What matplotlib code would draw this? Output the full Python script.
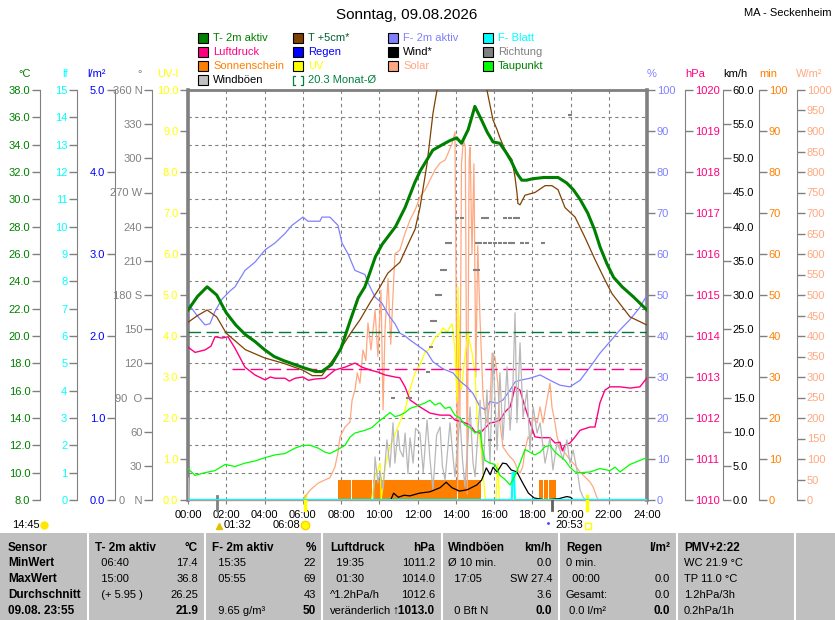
import matplotlib
matplotlib.use('Agg')
import matplotlib.pyplot as plt
import matplotlib.transforms as mtrans
from matplotlib.patches import Rectangle
from matplotlib.lines import Line2D
import numpy as np

plt.rcParams['font.family'] = ['Liberation Sans', 'DejaVu Sans']

# ---- data (hours, values) ----
t2_t = [0, 0.5, 1.0, 1.5, 2.0, 2.5, 3.0, 3.5, 4.0, 4.5, 5.0, 5.5, 6.0, 6.67, 7.0, 7.5, 8.0, 8.5, 8.9,
        9.25, 9.8, 10.15, 10.85, 11.35, 11.85, 12.15, 12.8, 13.3, 13.7, 14.05, 14.3, 14.65, 15.0, 15.35,
        15.65, 15.95, 16.3, 16.6, 16.9, 17.2, 17.45, 17.7, 18.0, 18.6, 19.35, 19.8, 20.15, 20.5, 20.9,
        21.25, 21.55, 21.9, 22.25, 22.7, 23.3, 23.7, 24.0]
t2_val = [21.9, 22.9, 23.6, 23.0, 21.7, 20.8, 20.1, 19.6, 19.0, 18.5, 18.2, 17.95, 17.7, 17.4, 17.4, 17.9,
          19.1, 21.2, 22.8, 23.6, 25.8, 26.7, 28.0, 29.4, 31.2, 32.1, 33.6, 34.0, 34.3, 34.5, 34.1, 35.1,
          36.8, 35.8, 34.9, 34.2, 34.1, 33.5, 32.8, 31.9, 31.4, 31.4, 31.5, 31.6, 31.6, 31.2, 30.7, 30.0,
          29.0, 27.8, 26.5, 25.3, 24.3, 23.6, 22.85, 22.3, 21.9]

t5_t = [0, 0.5, 1.0, 1.5, 2.0, 3.0, 4.0, 5.0, 6.0, 6.5, 7.0, 7.5, 8.0, 8.5, 9.0, 9.5, 10.0, 10.45, 11.08,
        11.6, 11.87, 12.13, 12.5, 12.81, 13.02, 13.5, 14.0, 14.5, 15.0, 15.63, 15.95, 16.16, 16.31, 16.58,
        16.94, 17.1, 17.2, 17.25, 17.36, 17.62, 18.14, 18.67, 19.03, 19.35, 19.71, 20.24, 20.76, 21.28,
        21.8, 22.17, 23.11, 24.0]
t5_val = [21.0, 21.5, 21.9, 21.4, 20.2, 19.0, 18.4, 18.0, 17.5, 17.1, 17.1, 18.1, 19.1, 20.2, 21.2, 22.4,
          23.5, 24.6, 25.4, 27.0, 27.8, 29.4, 32.6, 36.3, 38.0, 40.0, 41.0, 40.8, 39.5, 38.0, 35.8, 35.1,
          34.5, 33.6, 32.9, 31.6, 30.5, 29.7, 29.6, 30.3, 30.5, 31.0, 31.0, 30.7, 29.4, 28.7, 27.2, 25.6,
          24.1, 23.1, 21.4, 20.8]

hum_t = [0, 0.47, 0.89, 1.15, 1.41, 1.78, 2.2, 2.46, 2.98, 3.5, 4.03, 4.55, 5.07, 5.44, 6.01, 6.27, 6.9,
         7.0, 7.42, 7.84, 8.05, 8.37, 8.73, 9.25, 9.41, 9.78, 10.14, 10.5, 10.82, 11.08, 11.35, 11.61, 12.13,
         12.5, 12.81, 13.33, 13.86, 14.22, 14.59, 14.9, 15.27, 15.53, 15.79, 16.16, 16.47, 16.84, 17.1,
         17.36, 17.88, 18.41, 18.93, 19.45, 19.97, 20.5, 21.02, 21.54, 22.06, 22.59, 23.11, 23.63, 24.0]
hum_val = [48, 45, 42.7, 43, 46, 49, 51, 52, 56, 58, 61, 62.7, 65, 67, 69, 68, 68, 69, 69, 67, 62.7, 60,
           56, 55, 53, 49.5, 48, 45, 43, 40.7, 40, 39, 37.3, 36, 33.7, 32, 31, 29, 27.6, 26, 22.7, 22, 24,
           23.6, 24.4, 26.8, 28.8, 29.2, 29.7, 30.5, 29.2, 28, 27.6, 29.2, 32.4, 35.8, 38.6, 41.5, 44, 47, 50]

hpa_t = [0, 0.37, 0.89, 1.2, 1.41, 1.78, 2.09, 2.46, 2.98, 3.5, 4.03, 4.3, 4.55, 5.07, 5.3, 5.6, 6.01, 6.3,
         6.64, 7.16, 7.68, 8.21, 8.73, 9.1, 9.52, 9.93, 10.3, 10.82, 11.08, 11.35, 11.61, 12.13, 12.65,
         13.18, 13.7, 13.96, 14.38, 14.75, 15.01, 15.27, 15.79, 16.05, 16.31, 16.58, 16.84, 16.97, 17.1,
         17.36, 17.62, 17.88, 18.14, 18.41, 18.93, 19.19, 19.45, 19.58, 19.71, 19.97, 20.24, 20.5, 21.02,
         21.28, 21.54, 21.8, 22.06, 22.59, 23.11, 23.63, 24.0]
hpa_val = [1013.73, 1013.6, 1013.66, 1013.75, 1013.98, 1013.95, 1013.98, 1013.7, 1013.24, 1013.05,
           1012.93, 1013.0, 1012.97, 1012.97, 1012.9, 1012.97, 1013.0, 1012.92, 1012.95, 1012.97, 1013.17,
           1013.24, 1013.34, 1013.24, 1013.17, 1013.12, 1013.05, 1013.0, 1012.98, 1012.76, 1012.44,
           1012.27, 1012.12, 1012.07, 1012.07, 1011.95, 1011.9, 1011.83, 1011.66, 1011.63, 1011.88,
           1011.9, 1011.95, 1012.15, 1012.27, 1012.5, 1012.76, 1012.68, 1012.27, 1011.9, 1011.54, 1011.52,
           1011.52, 1011.39, 1011.41, 1011.2, 1011.34, 1011.39, 1011.54, 1011.7, 1011.78, 1011.78,
           1012.37, 1012.68, 1012.76, 1012.76, 1012.73, 1012.76, 1012.98]

dew_t = [0, 0.37, 0.89, 1.41, 1.94, 2.46, 2.98, 3.5, 4.03, 4.55, 5.07, 5.6, 6.01, 6.38, 6.8, 7.16, 7.42,
         7.84, 8.21, 8.47, 8.73, 8.99, 9.25, 9.62, 9.93, 10.3, 10.56, 10.82, 11.08, 11.35, 11.61, 12.13,
         12.39, 12.65, 12.91, 13.18, 13.44, 13.7, 13.96, 14.22, 14.48, 14.75, 15.01, 15.27, 15.37, 15.53,
         15.79, 16.05, 16.31, 16.58, 16.84, 17.1, 17.36, 17.62, 17.88, 18.14, 18.41, 18.67, 18.93, 19.19,
         19.45, 19.71, 19.97, 20.24, 20.5, 21.02, 21.54, 22.06, 22.33, 22.59, 23.11, 23.63, 24.0]
dew_val = [10.3, 9.8, 10.0, 10.15, 10.6, 10.45, 10.7, 10.85, 11.1, 11.3, 11.4, 11.8, 12.0, 12.0, 11.8,
           11.5, 11.4, 11.7, 12.0, 12.6, 12.9, 13.0, 13.1, 13.3, 13.7, 14.1, 14.4, 14.1, 14.2, 14.4, 14.7,
           14.95, 15.1, 15.3, 14.95, 15.1, 14.7, 14.8, 14.2, 14.0, 13.5, 13.3, 12.9, 13.1, 11.9, 10.9,
           10.7, 10.6, 9.8, 9.5, 9.1, 9.8, 10.7, 11.7, 11.5, 11.3, 11.5, 11.9, 12.0, 11.5, 11.2, 10.9,
           10.4, 10.05, 10.0, 10.05, 10.3, 10.15, 10.4, 10.05, 10.6, 10.9, 11.1]

solar_t = [0, 6.0, 6.38, 6.8, 7.16, 7.42, 7.68, 7.84, 7.95, 8.21, 8.47, 8.58, 8.73, 8.85, 8.99, 9.15, 9.3,
           9.41, 9.57, 9.78, 9.93, 10.09, 10.2, 10.3, 10.46, 10.6, 10.82, 11.08, 11.35, 11.61, 11.87,
           12.13, 12.39, 12.65, 12.91, 13.18, 13.44, 13.6, 13.81, 13.96, 14.05, 14.1, 14.15, 14.22, 14.3,
           14.4, 14.5, 14.6, 14.7, 14.75, 14.85, 14.95, 15.05, 15.15, 15.27, 15.43, 15.53, 15.63, 15.79,
           15.9, 16.05, 16.2, 16.31, 16.47, 16.68, 16.84, 17.0, 17.1, 17.25, 17.36, 17.5, 17.62, 17.78,
           17.88, 18.05, 18.25, 18.41, 18.56, 18.77, 18.93, 19.03, 19.19, 19.3, 19.45, 19.71, 19.97,
           20.24, 20.5, 20.76, 21.02, 21.18, 21.39, 21.5, 24.0]
solar_val = [0, 0, 24, 41, 49, 54, 80, 115, 154, 178, 190, 244, 268, 310, 285, 366, 340, 432, 366, 463,
             350, 512, 220, 415, 540, 380, 600, 610, 651, 683, 707, 739, 756, 780, 805, 822, 829, 846, 870,
             898, 300, 20, 450, 200, 820, 880, 860, 15, 830, 860, 600, 820, 300, 620, 439, 251, 212, 188,
             237, 358, 349, 285, 188, 129, 115, 105, 98, 90, 73, 66, 80, 122, 154, 146, 202, 188, 227, 188,
             244, 285, 227, 188, 154, 129, 115, 98, 85, 68, 56, 44, 32, 5, 0, 0]

gust_t = [0, 0.03, 0.08, 9.7, 9.78, 9.93, 10.04, 10.2, 10.4, 10.56, 10.72, 10.82, 10.98, 11.08, 11.25,
          11.35, 11.5, 11.61, 11.77, 11.9, 12.13, 12.3, 12.5, 12.65, 12.81, 13.0, 13.18, 13.3, 13.44, 13.7,
          13.85, 13.96, 14.22, 14.35, 14.48, 14.75, 14.9, 15.01, 15.27, 15.43, 15.63, 15.79, 15.95, 16.16,
          16.31, 16.47, 16.68, 16.84, 16.99, 17.1, 17.2, 17.36, 17.52, 17.73, 17.88, 18.05, 18.25, 18.41,
          18.67, 18.93, 19.08, 19.29, 19.45, 19.6, 19.81, 19.97, 20.14, 20.4, 20.5, 20.66, 20.8, 24.0]
gust_val = [0, 3.2, 0, 0, 6.3, 2.5, 4.1, 1.5, 8.8, 4.8, 11.3, 5.4, 10.2, 7.3, 6.3, 9.8, 3.9, 9.1, 5.4,
            10.5, 9.8, 4.0, 11.7, 6.0, 1.5, 9.5, 10.7, 5.0, 2.9, 11.3, 6.5, 3.4, 12.1, 6.0, 1.9, 13.6, 5.5,
            3.4, 14.6, 3.9, 16.1, 5.4, 21.5, 7.3, 18.6, 8.8, 19.5, 10.2, 17.0, 27.4, 11.3, 23.0, 12.1,
            16.1, 7.3, 13.6, 9.8, 11.3, 5.4, 9.1, 4.4, 8.3, 7.3, 5.9, 8.8, 5.4, 7.3, 3.4, 1.5, 0.4, 0, 0]

wind_t = [0, 10.6, 10.75, 11.0, 11.3, 11.6, 12.1, 12.65, 13.18, 13.5, 13.8, 14.2, 14.6, 15.1, 15.35,
          15.6, 15.8, 15.95, 16.16, 16.45, 16.65, 16.9, 17.2, 17.5, 17.8, 18.1, 18.4, 18.7, 19.4, 19.8,
          20.0, 20.15, 24]
wind_val = [0, 0, 1.0, 0.4, 0.7, 0.6, 1.0, 1.2, 1.8, 2.6, 1.8, 1.3, 1.5, 2.2, 2.9, 4.7, 3.7, 4.8, 4.1,
            5.4, 5.3, 4.4, 4.1, 2.5, 1.0, 0.3, 0.15, 0, 0.2, 0.5, 0.4, 0, 0]

uv_t = [0, 9.6, 9.78, 9.93, 10.05, 10.1, 10.3, 10.56, 10.82, 11.08, 11.35, 11.61, 11.87, 12.13, 12.39,
        12.65, 12.91, 13.18, 13.33, 13.54, 13.81, 13.96, 14.07, 14.12, 14.2, 14.3, 14.48, 14.64, 14.75,
        14.85, 15.01, 15.12, 15.27, 15.43, 15.53, 15.6, 16.1, 16.2, 16.28, 24]
uv_val = [0, 0, 0.56, 0.73, 0.9, 0.0, 0.8, 1.3, 1.6, 1.9, 2.2, 2.7, 3.1, 3.3, 3.6, 3.7, 3.95, 4.07, 4.2,
          4.1, 4.3, 3.66, 2.4, 5.2, 3.0, 2.7, 3.5, 4.07, 3.8, 3.6, 3.1, 1.9, 1.5, 0.66, 0.07, 0, 0, 0.9,
          0, 0]

leaf_t = [0, 16.93, 16.97, 17.05, 17.09, 24]
leaf_val = [0, 0, 1.0, 1.0, 0, 0]

dir_t = [14.07, 14.33, 15.42, 15.63, 16.58, 16.84, 17.1, 17.25,
         13.54, 13.7, 15.11, 15.27, 15.53, 15.79, 16.05, 16.31, 16.58, 16.84, 16.99, 17.46, 17.73, 18.56,
         13.28, 13.44, 15.01, 15.16, 13.02, 13.18, 12.76, 12.91, 12.7, 12.55, 10.72, 11.5, 11.61, 15.79,
         19.97]
dir_val = [247.6, 247.6, 247.6, 247.6, 247.6, 247.6, 247.6, 247.6,
           225.7, 225.7, 225.7, 225.7, 225.7, 225.7, 225.7, 225.7, 225.7, 225.7, 225.7, 225.7, 225.7, 225.7,
           202, 202, 202, 202, 180, 180, 157, 157, 134, 112, 89.6, 89.6, 89.6, 52.7, 338]

sun_start = [7.86, 8.55, 9.66, 14.13, 18.37, 18.61, 18.87]
sun_end = [8.5, 9.6, 14.08, 15.3, 18.55, 18.81, 19.24]
sun_minutes = 5

month_temp = 20.3
month_hpa = 1013.2

# ---- layout ----
W, H = 835, 620
fig = plt.figure(figsize=(8.35, 6.2), dpi=100)
x0, x1, ytop, ybot = 188, 647, 90, 500
ax = fig.add_axes([x0 / W, 1 - ybot / H, (x1 - x0) / W, (ybot - ytop) / H])


def fx(x):
    return x / W


def fy(y):
    return 1 - y / H


GRAY = '#808080'
ax.set_xlim(0, 24)
ax.set_ylim(8, 38)
ax.set_yticks(np.arange(8, 39, 2))
ax.tick_params(axis='y', length=0, labelleft=False)
ax.set_xticks(range(0, 25, 2))
ax.set_xticklabels(['%02d:00' % h for h in range(0, 25, 2)], fontsize=8)
ax.tick_params(axis='x', length=3, color=GRAY, pad=4)
ax.grid(True, color=GRAY, ls=(0, (3, 3)), lw=0.8)
for s in ['left', 'right']:
    ax.spines[s].set_color(GRAY)
    ax.spines[s].set_linewidth(2.6)
ax.spines['top'].set_color(GRAY)
ax.spines['top'].set_linewidth(2)
ax.spines['bottom'].set_color('#a0a0a0')
ax.spines['bottom'].set_linewidth(1)


def make_axis(pos, side, lo, hi, ticks, color, labels, show_spine=True):
    a = ax.twinx()
    a.set_ylim(lo, hi)
    for s in a.spines.values():
        s.set_visible(False)
    a.spines[side].set_visible(show_spine)
    a.spines[side].set_position(('axes', pos))
    a.spines[side].set_color(GRAY)
    a.yaxis.set_ticks_position(side)
    a.set_yticks(ticks)
    a.set_yticklabels(labels)
    a.tick_params(axis='y', colors=GRAY, labelcolor=color, length=6, width=1, labelsize=8, pad=1)
    return a


span = x1 - x0
# order = drawing order (back to front)
a_min = make_axis((759 - x0) / span, 'right', 0, 100, range(0, 101, 10), '#ff8000',
                  [str(v) for v in range(0, 101, 10)])
a_sol = make_axis((797 - x0) / span, 'right', 0, 1000, range(0, 1001, 50), '#ffa880',
                  [str(v) for v in range(0, 1001, 50)])
a_uv = make_axis(0, 'left', 0, 10, range(0, 11), '#ffff00', ['%.1f' % v for v in range(0, 11)],
                 show_spine=False)
a_hum = make_axis(1.0, 'right', 0, 100, range(0, 101, 10), '#8080ff',
                  [str(v) for v in range(0, 101, 10)], show_spine=False)
a_hpa = make_axis((685 - x0) / span, 'right', 1010, 1020, range(1010, 1021), '#ff0080',
                  [str(v) for v in range(1010, 1021)])
a_kmh = make_axis((723 - x0) / span, 'right', 0, 60, range(0, 61, 5), 'black',
                  ['%.1f' % v for v in range(0, 61, 5)])
a_dir = make_axis((152 - x0) / span, 'left', 0, 360, range(0, 361, 30), GRAY,
                  ['0   N', '30', '60', '90  O', '120', '150', '180 S', '210', '240', '270 W',
                   '300', '330', '360 N'])
a_lf = make_axis((77 - x0) / span, 'left', 0, 15, range(0, 16), '#00ffff', [str(v) for v in range(16)])
a_rain = make_axis((115 - x0) / span, 'left', 0, 5, range(0, 6), '#0000ff', ['%.1f' % v for v in range(6)])
a_tc = make_axis((40 - x0) / span, 'left', 8, 38, range(8, 39, 2), '#008000',
                 ['%.1f' % v for v in range(8, 39, 2)])

# ---- data ----
for s0, s1 in zip(sun_start, sun_end):
    a_min.bar(s0, sun_minutes, width=s1 - s0, align='edge', color='#ff8000', lw=0)
a_min.plot([0, 24], [0, 0], color='#ff8000', lw=1.2)
a_sol.plot(solar_t, solar_val, color='#ffa880', lw=0.9)
a_uv.plot(uv_t, uv_val, color='#ffff00', lw=0.9)
a_hum.plot(hum_t, hum_val, color='#8080ff', lw=0.9)
a_hpa.plot(hpa_t, hpa_val, color='#ff0080', lw=1.0)
a_hpa.plot([2.3, 24], [month_hpa, month_hpa], color='#ff0080', lw=1.0, dashes=(9, 4))
a_kmh.plot(gust_t, gust_val, color='#b8b8b8', lw=0.9)
a_kmh.plot(wind_t, wind_val, color='black', lw=0.9)
a_dir.plot(dir_t, dir_val, ls='none', marker='_', ms=3, mew=1.5, color=GRAY)
a_lf.plot(leaf_t, leaf_val, color='#00ffff', lw=1.5)
a_tc.plot([0, 24], [month_temp, month_temp], color='#007840', lw=1.0, dashes=(9, 4))
a_tc.plot(dew_t, dew_val, color='#00ff00', lw=0.9)
a_tc.plot(t5_t, t5_val, color='#804000', lw=0.9)
a_tc.plot(t2_t, t2_val, color='#008000', lw=2.2)

# event markers below axis (moon, sun)
trans = mtrans.blended_transform_factory(ax.transData, ax.transAxes)
for t, c, lw in [(1.533, GRAY, 2), (6.133, '#ffff00', 2.5), (19.03, '#606060', 2), (20.883, '#ffff00', 2.5)]:
    ax.plot([t, t], [-0.025, 0.01], transform=trans, color=c, lw=lw, clip_on=False, zorder=5)

# ---- texts ----
fig.text(fx(407), fy(15), 'Sonntag, 09.08.2026', ha='center', va='center', fontsize=11)
fig.text(fx(831), fy(13), 'MA - Seckenheim', ha='right', va='center', fontsize=8)

units = [(25, '°C', '#008000'), (65, 'lf', '#00ffff'), (96, 'l/m²', '#0000ff'), (140, '°', GRAY),
         (168, 'UV-I', '#ffff00'), (652, '%', '#8080ff'), (695, 'hPa', '#ff0080'), (735, 'km/h', 'black'),
         (768, 'min', '#ff8000'), (809, 'W/m²', '#ffa880')]
for x, s, c in units:
    fig.text(fx(x), fy(74), s, ha='center', va='center', fontsize=8, color=c)

legend = [
    (198, 38, 'T- 2m aktiv', '#008000', '#008000'), (198, 52, 'Luftdruck', '#ff0080', '#ff0080'),
    (198, 66, 'Sonnenschein', '#ff8000', '#ff8000'), (198, 80, 'Windböen', '#c0c0c0', 'black'),
    (293, 38, 'T +5cm*', '#804000', '#006030'), (293, 52, 'Regen', '#0000ff', '#0000ff'),
    (293, 66, 'UV', '#ffff00', '#ffff00'),
    (388, 38, 'F- 2m aktiv', '#8080ff', '#8080ff'), (388, 52, 'Wind*', 'black', 'black'),
    (388, 66, 'Solar', '#ffa880', '#ffa880'),
    (483, 38, 'F- Blatt', '#00ffff', '#00ffff'), (483, 52, 'Richtung', GRAY, GRAY),
    (483, 66, 'Taupunkt', '#00ff00', '#008000'),
]
for x, y, s, fc, tc in legend:
    fig.add_artist(Rectangle((fx(x), fy(y + 5)), 10 / W, 10 / H, transform=fig.transFigure,
                             facecolor=fc, edgecolor='black', lw=0.8))
    fig.text(fx(x + 15), fy(y), s, ha='left', va='center', fontsize=8, color=tc)
# Monat-Ø bracket symbol
for xs in ([295, 293, 293, 295], [301, 303, 303, 301]):
    fig.add_artist(Line2D([fx(v) for v in xs], [fy(76), fy(76), fy(85), fy(85)],
                          transform=fig.transFigure, color='#008040', lw=0.9))
fig.text(fx(308), fy(80), '20.3 Monat-Ø', ha='left', va='center', fontsize=8, color='#008040')

# sun / moon times row
fig.text(fx(12), fy(525), '14:45', ha='left', va='center', fontsize=8)
fig.add_artist(Line2D([fx(44)], [fy(525)], marker='o', ms=5, color='#ffe800', transform=fig.transFigure))
fig.add_artist(Line2D([fx(219)], [fy(526)], marker='^', ms=5, color='#e0c000', transform=fig.transFigure))
fig.text(fx(224), fy(525), '01:32', ha='left', va='center', fontsize=8)
fig.text(fx(273), fy(525), '06:08', ha='left', va='center', fontsize=8)
fig.add_artist(Line2D([fx(305)], [fy(525)], marker='o', ms=6, color='#ffff00', mec='#ffd000',
                      transform=fig.transFigure))
fig.add_artist(Line2D([fx(548)], [fy(523)], marker='.', ms=2, color='#4040ff', transform=fig.transFigure))
fig.text(fx(555), fy(525), '20:53', ha='left', va='center', fontsize=8)
fig.add_artist(Line2D([fx(588)], [fy(526)], marker='s', ms=5, mfc='none', mec='#ffff00',
                      transform=fig.transFigure))

# ---- statistics table ----
fig.add_artist(Rectangle((0, 0), 1, fy(533), transform=fig.transFigure, facecolor='#c0c0c0', lw=0))
for x in [88, 205, 322, 442, 559, 677, 795]:
    fig.add_artist(Line2D([fx(x), fx(x)], [0, fy(533)], transform=fig.transFigure, color='white', lw=1.5))

tbl_left = [
    ['Sensor', 'MinWert', 'MaxWert', 'Durchschnitt', '09.08. 23:55'],
    ['T- 2m aktiv', '  06:40', '  15:00', '  (+ 5.95 )', ''],
    ['F- 2m aktiv', '  15:35', '  05:55', '', '  9.65 g/m³'],
    ['Luftdruck', '  19:35', '  01:30', '^1.2hPa/h', 'veränderlich'],
    ['Windböen', 'Ø 10 min.', '  17:05', '', '  0 Bft N'],
    ['Regen', '0 min.', '  00:00', 'Gesamt:', ' 0.0 l/m²'],
    ['PMV+2:22', 'WC 21.9 °C', 'TP 11.0 °C', '1.2hPa/3h', '0.2hPa/1h'],
]
tbl_right = [
    None,
    ['°C', '17.4', '36.8', '26.25', '21.9'],
    ['%', '22', '69', '43', '50'],
    ['hPa', '1011.2', '1014.0', '1012.6', '↑1013.0'],
    ['km/h', '0.0', 'SW 27.4', '3.6', '0.0'],
    ['l/m²', '', '0.0', '0.0', '0.0'],
    None,
]
col_left = [8, 95, 212, 330, 448, 566, 684]
col_right = [None, 198, 316, 435, 552, 670, None]
row_y = [548, 563, 579, 595, 611]
for c in range(7):
    for r in range(5):
        bold = (r == 0) or (c == 0)
        fig.text(fx(col_left[c]), fy(row_y[r]), tbl_left[c][r], ha='left', va='center',
                 fontsize=8.5 if bold else 8, fontweight='bold' if bold else 'normal')
        if tbl_right[c] is not None:
            rb = r in (0, 4)
            fig.text(fx(col_right[c]), fy(row_y[r]), tbl_right[c][r], ha='right', va='center',
                     fontsize=8.5 if rb else 8, fontweight='bold' if rb else 'normal')

fig.savefig('out.png', dpi=100)
